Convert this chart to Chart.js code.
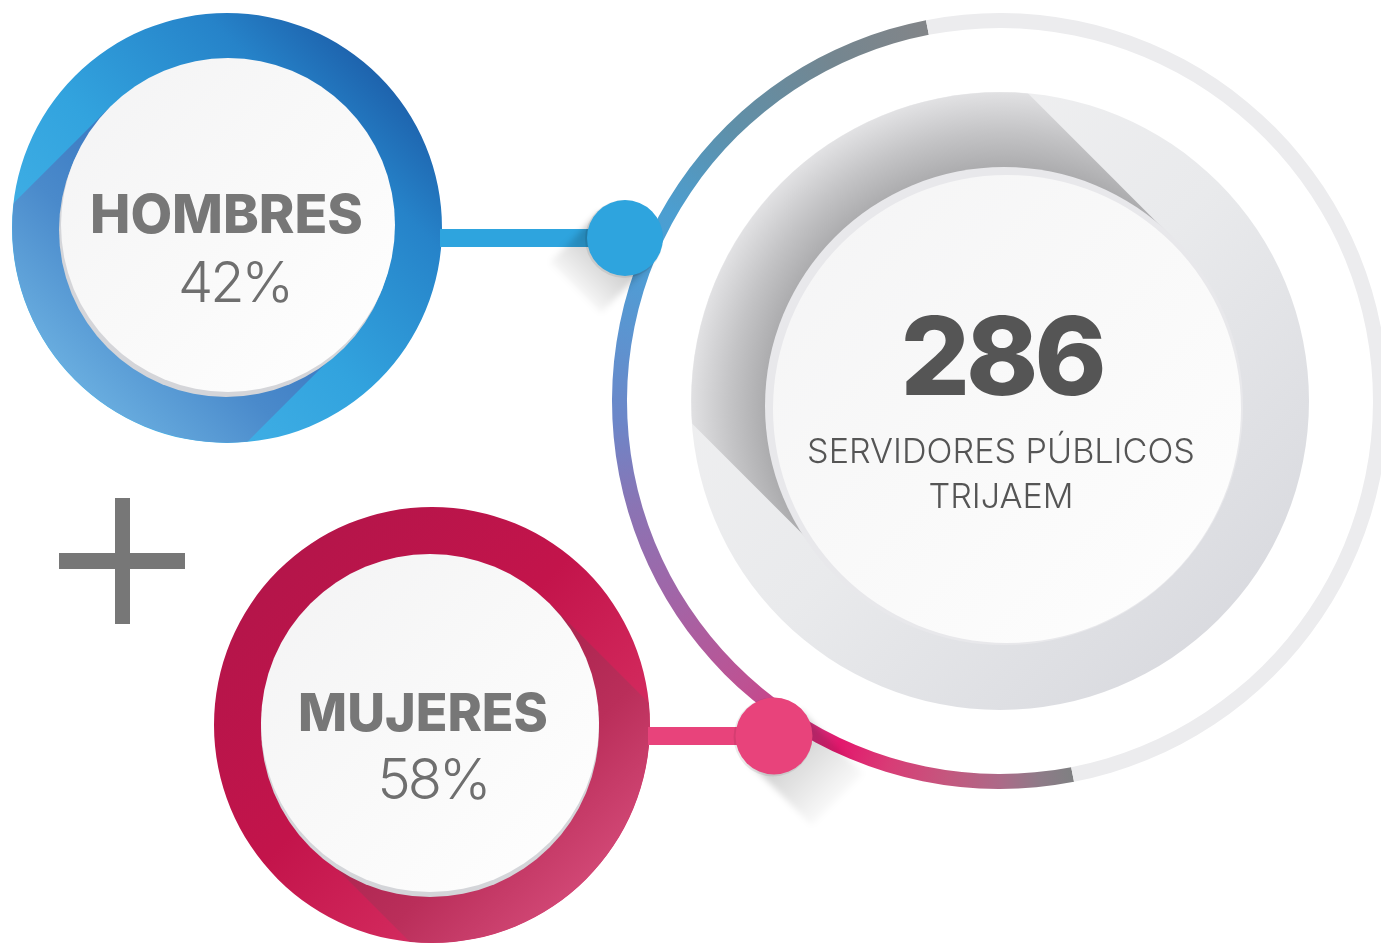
<!DOCTYPE html>
<html>
<head>
<meta charset="utf-8">
<script src="https://cdn.jsdelivr.net/npm/chart.js@4.4.1/dist/chart.umd.min.js"></script>
<style>
html,body{margin:0;padding:0;background:#ffffff;}
#stage{position:relative;width:1381px;height:943px;overflow:hidden;background:#ffffff;}
#stage canvas{position:absolute;}
</style>
</head>
<body>
<div id="stage">
  <canvas id="cTotal" width="784" height="784" style="left:608px;top:9px"></canvas>
  <canvas id="cH" width="438" height="438" style="left:8px;top:9px"></canvas>
  <canvas id="cM" width="444" height="444" style="left:210px;top:503px"></canvas>
  <canvas id="decor" width="1381" height="943" style="left:0;top:0"></canvas>
</div>
<script>
// ---------- data ----------
const categories = ['HOMBRES', 'MUJERES'];
const percentages = [42, 58];
const totalValue = 286;
const totalCaption = ['SERVIDORES PÚBLICOS', 'TRIJAEM'];
const outerRingShare = [180, 180]; // degrees: coloured arc, grey remainder

// ---------- helpers ----------
const FAMILY = 'Inter, "Open Sans", "DejaVu Sans", sans-serif';
function fitFont(ctx, text, weight, width, spacing) {
  ctx.letterSpacing = (spacing || 0) + 'px';
  ctx.font = weight + ' 100px ' + FAMILY;
  const w = ctx.measureText(text).width;
  return 100 * width / w;
}
function drawText(ctx, text, weight, size, x, y, color, spacing) {
  ctx.save();
  ctx.letterSpacing = (spacing || 0) + 'px';
  ctx.font = weight + ' ' + size + 'px ' + FAMILY;
  ctx.fillStyle = color;
  ctx.textAlign = 'center';
  ctx.textBaseline = 'alphabetic';
  // compensate trailing letter spacing so text stays centred
  ctx.fillText(text, x - (spacing || 0) / 2, y);
  ctx.restore();
}
function linGrad(ctx, x0, y0, x1, y1, stops) {
  const g = ctx.createLinearGradient(x0, y0, x1, y1);
  stops.forEach(s => g.addColorStop(s[0], s[1]));
  return g;
}
function centerOf(chart) {
  const a = chart.chartArea;
  return { x: (a.left + a.right) / 2, y: (a.top + a.bottom) / 2 };
}
function shadowBand(ctx, dcx, dcy, r, dir, len, fill) {
  const n = Math.hypot(dir[0], dir[1]);
  const ux = dir[0] / n, uy = dir[1] / n;
  const px = -uy, py = ux;
  ctx.beginPath();
  ctx.moveTo(dcx + px * r, dcy + py * r);
  ctx.lineTo(dcx + px * r + ux * len, dcy + py * r + uy * len);
  ctx.lineTo(dcx - px * r + ux * len, dcy - py * r + uy * len);
  ctx.lineTo(dcx - px * r, dcy - py * r);
  ctx.closePath();
  ctx.fillStyle = fill;
  ctx.fill();
}

const baseOpts = {
  responsive: false,
  animation: false,
  events: [],
  layout: { padding: 4 },
  plugins: { legend: { display: false }, tooltip: { enabled: false } }
};

// ---------- gender rings ----------
function genderRing(id, idx, cfg) {
  return new Chart(document.getElementById(id), {
    type: 'doughnut',
    data: {
      labels: [categories[idx]],
      datasets: [{
        data: [percentages[idx]],
        backgroundColor: (c) => {
          const ch = c.chart;
          if (!ch.chartArea) return cfg.flat;
          const o = centerOf(ch);
          return linGrad(ch.ctx, o.x + cfg.g0[0], o.y + cfg.g0[1], o.x + cfg.g1[0], o.y + cfg.g1[1], cfg.stops);
        },
        borderWidth: 0,
        hoverOffset: 0
      }]
    },
    options: Object.assign({}, baseOpts, { cutout: 150 }),
    plugins: [{
      id: 'inner' + idx,
      afterDatasetsDraw(chart) {
        const ctx = chart.ctx;
        const arc = chart.getDatasetMeta(0).data[0];
        const cx = arc.x, cy = arc.y, R = arc.outerRadius;
        const dx = cx + cfg.disc[0], dy = cy + cfg.disc[1], r = cfg.discR;
        // long shadow on ring
        ctx.save();
        ctx.beginPath();
        ctx.arc(cx, cy, R - 0.3, 0, Math.PI * 2);
        ctx.clip();
        const n = Math.SQRT1_2;
        const g = linGrad(ctx, dx, dy, dx + cfg.dir[0] * n * 235, dy + cfg.dir[1] * n * 235, cfg.band);
        shadowBand(ctx, dx, dy, r, cfg.dir, 400, g);
        ctx.restore();
        // rim
        ctx.beginPath();
        ctx.arc(dx + cfg.rim[0], dy + cfg.rim[1], r, 0, Math.PI * 2);
        ctx.fillStyle = '#d4d5d9';
        ctx.fill();
        // disc
        ctx.beginPath();
        ctx.arc(dx, dy, r, 0, Math.PI * 2);
        ctx.fillStyle = linGrad(ctx, dx - r, dy - r, dx + r, dy + r, [[0, '#f3f3f4'], [0.5, '#f9f9f9'], [1, '#ffffff']]);
        ctx.fill();
        // texts
        const s1 = fitFont(ctx, categories[idx], 800, cfg.w1, 0);
        drawText(ctx, categories[idx], 800, s1, cx + cfg.t1[0], cy + cfg.t1[1], '#777777', 0);
        const p = percentages[idx] + '%';
        drawText(ctx, p, 300, 56, cx + cfg.t2[0], cy + cfg.t2[1], '#6f6f6f', -3);
      }
    }]
  });
}

genderRing('cH', 0, {
  flat: '#2a8fd3',
  g0: [165, -165], g1: [-150, 150],
  stops: [[0, '#1c5ca7'], [0.22, '#2683c9'], [0.57, '#32a3de'], [1, '#45b4e8']],
  disc: [1, -3], discR: 167, rim: [-2, 5],
  dir: [-1, 1],
  band: [[0, '#3a78c1'], [0.45, '#4a8acb'], [1, '#6db2e2']],
  w1: 273, t1: [-0.5, 5], t2: [6, 74]
});
genderRing('cM', 1, {
  flat: '#c3144b',
  g0: [-150, -150], g1: [150, 150],
  stops: [[0, '#b5154a'], [0.45, '#c3144b'], [0.75, '#d0265a'], [1, '#d6346a']],
  disc: [-2, -2], discR: 169, rim: [0, 5],
  dir: [1, 1],
  band: [[0, '#a8234d'], [0.5, '#ba2e5a'], [1, '#d44a78']],
  w1: 250, t1: [-9, 6], t2: [-0.5, 74]
});

// ---------- total ring ----------
const arcStops = [
  [169, '#7f8082'], [174, '#8e7b88'], [180, '#ac6a88'], [188, '#c4577e'], [197, '#d83c76'],
  [205, '#e3186d'], [212, '#cf3a84'], [222, '#bd5293'], [240, '#a066a8'], [254, '#8a74b4'],
  [267, '#6c86c8'], [280, '#5c94d0'], [293, '#4aa0d6'], [300, '#4c9ed0'], [315, '#5e90aa'],
  [334, '#748690'], [349.5, '#838588']
];
function conic(chart) {
  const o = centerOf(chart);
  const g = chart.ctx.createConicGradient(-Math.PI / 2, o.x, o.y);
  arcStops.forEach(s => g.addColorStop(s[0] / 360, s[1]));
  return g;
}

new Chart(document.getElementById('cTotal'), {
  type: 'doughnut',
  data: {
    labels: ['arco', 'resto'],
    datasets: [
      {
        data: outerRingShare,
        rotation: 169,
        weight: 15,
        backgroundColor: (c) => {
          if (c.dataIndex === 1) return '#ececee';
          return c.chart.chartArea ? conic(c.chart) : '#7a8aa0';
        },
        borderWidth: 0,
        hoverOffset: 0
      },
      {
        data: [1],
        weight: 64,
        backgroundColor: 'rgba(0,0,0,0)',
        borderWidth: 0,
        hoverOffset: 0
      },
      {
        data: [totalValue],
        weight: 89,
        backgroundColor: (c) => {
          const ch = c.chart;
          if (!ch.chartArea) return '#e6e7ea';
          const o = centerOf(ch);
          return linGrad(ch.ctx, o.x - 230, o.y - 230, o.x + 230, o.y + 230, [[0, '#f1f1f2'], [0.5, '#e9eaec'], [1, '#d9dadf']]);
        },
        borderWidth: 0,
        hoverOffset: 0
      }
    ]
  },
  options: Object.assign({}, baseOpts, { cutout: 220 }),
  plugins: [{
    id: 'totalInner',
    afterDatasetsDraw(chart) {
      const ctx = chart.ctx;
      const grey = chart.getDatasetMeta(2).data[0];
      const cx = grey.x, cy = grey.y, R = grey.outerRadius;
      const dx = cx + 4, dy = cy + 5, r = 239;
      // shadow band toward top-left
      ctx.save();
      ctx.beginPath();
      ctx.arc(cx, cy, R - 0.3, 0, Math.PI * 2);
      ctx.clip();
      const rg = ctx.createRadialGradient(dx, dy, r - 5, dx, dy, R + 6);
      rg.addColorStop(0, '#a9a9ab');
      rg.addColorStop(0.5, '#c4c4c6');
      rg.addColorStop(1, '#e2e2e4');
      // band slightly narrower than the disc, shifted toward the upper-right edge
      shadowBand(ctx, dx + 1.8, dy - 1.8, 235.5, [-1, -1], 500, rg);
      ctx.restore();
      // rim + disc
      ctx.beginPath();
      ctx.arc(dx, dy, r, 0, Math.PI * 2);
      ctx.fillStyle = '#e8e8eb';
      ctx.fill();
      ctx.beginPath();
      ctx.arc(dx + 3, dy + 3, r - 5, 0, Math.PI * 2);
      ctx.fillStyle = linGrad(ctx, dx - r, dy - r, dx + r, dy + r, [[0, '#f4f4f5'], [0.5, '#f9f9f9'], [1, '#fefefe']]);
      ctx.fill();
      // texts
      drawText(ctx, String(totalValue), 800, 109, cx - 0.5, cy - 6, '#555555', -4);
      const s2 = fitFont(ctx, totalCaption[0], 300, 388, 0);
      drawText(ctx, totalCaption[0], 300, s2, cx + 1, cy + 62, '#555555', 0);
      drawText(ctx, totalCaption[1], 300, s2, cx + 1, cy + 107, '#555555', 0);
    }
  }]
});

// ---------- connectors, dots, plus sign ----------
(function decor() {
  const ctx = document.getElementById('decor').getContext('2d');
  // plus
  ctx.fillStyle = '#777777';
  ctx.fillRect(115, 498, 15, 126);
  ctx.fillRect(59, 553, 126, 16);

  function connector(o) {
    ctx.fillStyle = o.color;
    ctx.fillRect(o.x0, o.y - 9, o.x1 - o.x0, 18);
    const n = Math.SQRT1_2;
    const g = linGrad(ctx, o.x1, o.y, o.x1 + o.dir[0] * n * (o.len + 10), o.y + o.dir[1] * n * (o.len + 10),
      [[0, 'rgba(0,0,0,' + o.alpha + ')'], [0.35, 'rgba(0,0,0,' + (o.alpha * 0.55) + ')'], [1, 'rgba(0,0,0,0)']]);
    ctx.save();
    ctx.filter = 'blur(3px)';
    shadowBand(ctx, o.x1, o.y, o.r - 2, o.dir, o.len, g);
    ctx.restore();
    // faint outline shadow
    ctx.beginPath();
    ctx.arc(o.x1 - 1, o.y + 1, o.r + 1, 0, Math.PI * 2);
    ctx.fillStyle = 'rgba(0,0,0,0.08)';
    ctx.fill();
    ctx.beginPath();
    ctx.arc(o.x1, o.y, o.r, 0, Math.PI * 2);
    ctx.fillStyle = o.color;
    ctx.fill();
  }
  connector({ x0: 440, x1: 625, y: 238, r: 38, color: '#2ea4de', dir: [-1, 1], len: 70, alpha: 0.32 });
  connector({ x0: 648, x1: 774, y: 736, r: 38.5, color: '#e8437b', dir: [1, 1], len: 90, alpha: 0.26 });
})();
</script>
</body>
</html>
